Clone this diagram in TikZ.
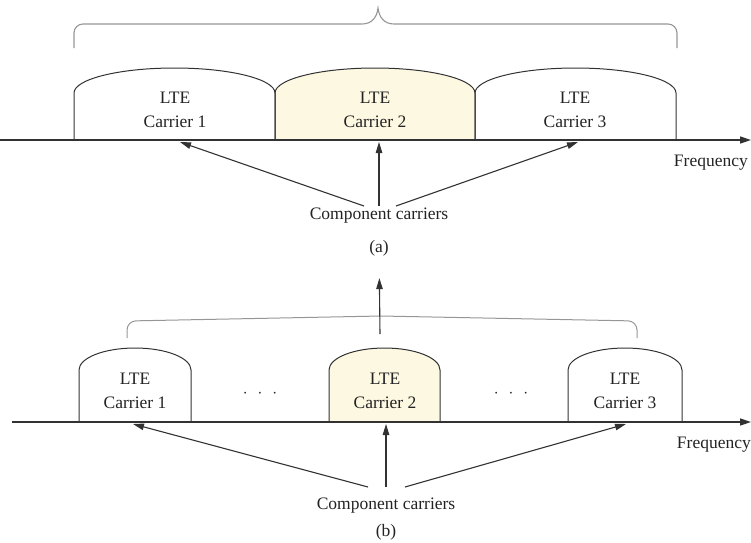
\documentclass[tikz,border=0pt]{standalone}
\usepackage{fontspec}
\setmainfont{Liberation Serif}
\usetikzlibrary{arrows.meta,calc}
\definecolor{linegray}{RGB}{50,50,50}
\definecolor{bracegray}{RGB}{150,150,150}
\definecolor{txtgray}{RGB}{35,35,35}
\definecolor{carrierfill}{RGB}{253,248,225}

\begin{document}
\begin{tikzpicture}[x=1pt,y=-1pt,
    axisline/.style={line width=1.5pt, draw=linegray, -{Triangle[length=11pt,width=7pt]}},
    pointer/.style={line width=1.1pt, draw=linegray, -{Triangle[length=11pt,width=6.5pt]}},
    band/.style={line width=1pt, draw=linegray},
    grouping/.style={line width=1.1pt, draw=bracegray, rounded corners=9pt},
    lbl/.style={font=\fontsize{17.5}{24}\selectfont, text=txtgray, inner sep=0pt, align=center}]

        \useasboundingbox (0,0) rectangle (751,542);

        % ---------- (a) contiguous ----------
        % coordinates
        \coordinate (axA-start) at (0,140);
        \coordinate (axA-end) at (751,140);
        \coordinate (tipA1) at (180,142);
        \coordinate (tipA2) at (379,142);
        \coordinate (tipA3) at (578,142);
        \coordinate (tailA1) at (364,206);
        \coordinate (tailA2) at (379,206);
        \coordinate (tailA3) at (396,206);

        % carriers
        \filldraw[band, fill=carrierfill] (275,140) -- (275,93) arc[start angle=180, end angle=0, x radius=100pt, y radius=25pt] -- (475,140);
        \draw[band] (74,140) -- (74,93) arc[start angle=180, end angle=0, x radius=100.5pt, y radius=25pt] -- (275,140);
        \draw[band] (475,140) -- (475,93) arc[start angle=180, end angle=0, x radius=100.5pt, y radius=25pt] -- (676,140);

        % brace
        \draw[grouping] (74,48) -- (74,24) -- (340,24) [sharp corners] -- (362,24)
            .. controls (372,24) and (377,17) .. (378,8)
            .. controls (379,17) and (384,24) .. (394,24) [rounded corners=9pt] -- (677,24) -- (677,48);

        % axis
        \draw[axisline] (axA-start) -- (axA-end);

        % text
        \node[lbl] (lteA1) at (175,110) {LTE\\Carrier 1};
        \node[lbl] (lteA2) at (375,110) {LTE\\Carrier 2};
        \node[lbl] (lteA3) at (575,110) {LTE\\Carrier 3};
        \node[lbl, anchor=east] (freqA) at (748,163) {Frequency};
        \node[lbl] (ccA) at (379,216) {Component carriers};
        \node[lbl] (capA) at (379,248) {(a)};

        % arrows
        \draw[pointer] (tailA1) -- (tipA1);
        \draw[pointer] (tailA2) -- (tipA2);
        \draw[pointer] (tailA3) -- (tipA3);

        % ---------- (b) non-contiguous ----------
        % coordinates
        \coordinate (axB-start) at (12,422);
        \coordinate (axB-end) at (751,422);
        \coordinate (tipB1) at (133,424);
        \coordinate (tipB2) at (386,424);
        \coordinate (tipB3) at (626,424);
        \coordinate (tailB1) at (368,487);
        \coordinate (tailB2) at (386,487);
        \coordinate (tailB3) at (405,487);
        \coordinate (upB) at (380,334);

        % carriers
        \draw[band] (79,422) -- (79,370) arc[start angle=180, end angle=0, x radius=56pt, y radius=22pt] -- (191,422);
        \filldraw[band, fill=carrierfill] (329,422) -- (329,370) arc[start angle=180, end angle=0, x radius=55.5pt, y radius=22pt] -- (440,422);
        \draw[band] (568,422) -- (568,370) arc[start angle=180, end angle=0, x radius=57pt, y radius=22pt] -- (682,422);

        % grouping line
        \draw[grouping, line width=1pt] (127,338) -- (127,321) -- (381,316) -- (637,321) -- (637,338);

        % axis
        \draw[axisline] (axB-start) -- (axB-end);

        % text
        \node[lbl] (lteB1) at (135,391) {LTE\\Carrier 1};
        \node[lbl] (lteB2) at (385,391) {LTE\\Carrier 2};
        \node[lbl] (lteB3) at (625,391) {LTE\\Carrier 3};
        \node[lbl] (gapB1) at (260,394) {$\cdot$\hspace{10pt}$\cdot$\hspace{10pt}$\cdot$};
        \node[lbl] (gapB2) at (511,394) {$\cdot$\hspace{10pt}$\cdot$\hspace{10pt}$\cdot$};
        \node[lbl, anchor=east] (freqB) at (751,445) {Frequency};
        \node[lbl] (ccB) at (386,506) {Component carriers};
        \node[lbl] (capB) at (386,532) {(b)};

        % arrows
        \draw[pointer] (tailB1) -- (tipB1);
        \draw[pointer] (tailB2) -- (tipB2);
        \draw[pointer] (tailB3) -- (tipB3);
        \draw[pointer, shorten >=22pt] (upB) -- (capA);
\end{tikzpicture}
\end{document}
